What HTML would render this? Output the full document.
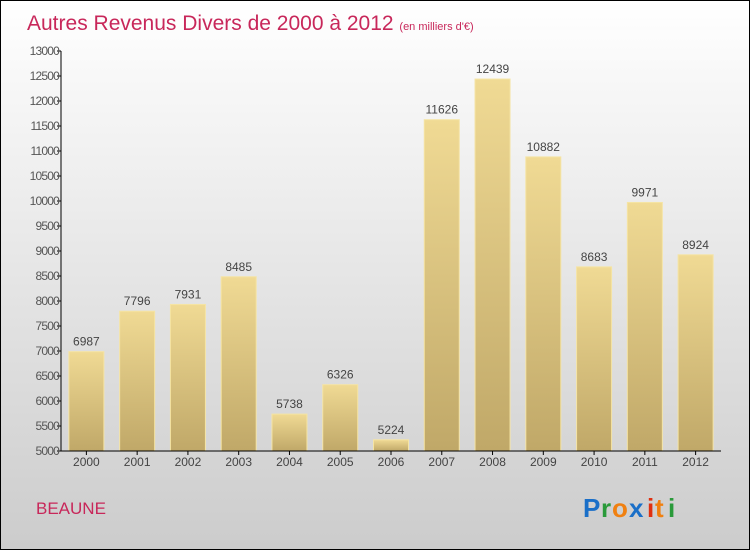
<!DOCTYPE html>
<html><head><meta charset="utf-8"><style>
body{margin:0;}
#c{width:750px;height:550px;position:relative;box-sizing:border-box;border:1px solid #000;background:linear-gradient(#ffffff,#cccccc);font-family:"Liberation Sans",sans-serif;overflow:hidden}
</style></head><body>
<div id="c">
<svg id="s" width="750" height="550" style="position:absolute;left:-1px;top:-1px">
<defs><linearGradient id="g" x1="0" y1="0" x2="0" y2="1"><stop offset="0" stop-color="#f0da94"/><stop offset="1" stop-color="#c0a868"/></linearGradient></defs>
<text x="27" y="30" font-size="21" fill="#c8275a">Autres Revenus Divers de 2000 à 2012 <tspan font-size="11">(en milliers d'€)</tspan></text>
<text x="36" y="514" font-size="17" fill="#c8275a">BEAUNE</text>
<g font-size="26" font-weight="bold" font-family="'Liberation Sans',sans-serif">
<text x="583" y="517" fill="#1a6fc8">P</text><text x="601" y="517" fill="#2a9a3a">r</text><text x="612" y="517" fill="#f08010">o</text><text x="629" y="517" fill="#1a6fc8">x</text><text x="647" y="517" fill="#e03010">i</text><text x="655" y="517" fill="#f08010">t</text><text x="668" y="517" fill="#2a9a3a">i</text></g>
<g id="plot"></g>
</svg>
</div>
<script>
const categories=["2000","2001","2002","2003","2004","2005","2006","2007","2008","2009","2010","2011","2012"];
const values=[6987,7796,7931,8485,5738,6326,5224,11626,12439,10882,8683,9971,8924];
const yTicks=[5000,5500,6000,6500,7000,7500,8000,8500,9000,9500,10000,10500,11000,11500,12000,12500,13000];
const NS="http://www.w3.org/2000/svg";
const X0=61,X1=721,Y0=451,Y1=51,VMIN=5000,VMAX=13000;
const step=(X1-X0)/categories.length;
const y=v=>Y0-(v-VMIN)/(VMAX-VMIN)*(Y0-Y1);
const xc=i=>X0+step*(i+0.5);
const p=document.getElementById('plot');
function mk(t,a){const e=document.createElementNS(NS,t);for(const k in a)e.setAttribute(k,a[k]);p.appendChild(e);return e;}
values.forEach((v,i)=>{
 const r=mk('rect',{x:xc(i)-17.5,y:y(v),width:35,height:Y0-y(v),fill:'url(#g)',stroke:'#f5e4a4','stroke-width':1});
 
 
 const t=mk('text',{x:xc(i),y:y(v)-6,'text-anchor':'middle','font-size':12,fill:'#444'});
 t.textContent=v;
 
 
 const l=mk('text',{x:xc(i),y:Y0+15,'text-anchor':'middle','font-size':12,fill:'#444'});
 l.textContent=categories[i];
 
 
 mk('line',{x1:xc(i),x2:xc(i),y1:Y0,y2:Y0+4,stroke:'#000'});
});
yTicks.forEach(v=>{
 mk('line',{x1:X0-4,x2:X0,y1:y(v),y2:y(v),stroke:'#000'});
 const t=mk('text',{x:X0-2,y:y(v)+4,'text-anchor':'end','font-size':12,fill:'#555','letter-spacing':'-0.8'});
 t.textContent=v;
 
 
});
const ya=mk('line',{x1:X0,x2:X0,y1:Y1,y2:Y0,stroke:'#000'});


const xa=mk('line',{x1:X0,x2:X1,y1:Y0,y2:Y0,stroke:'#000'});


</script>
</body></html>
